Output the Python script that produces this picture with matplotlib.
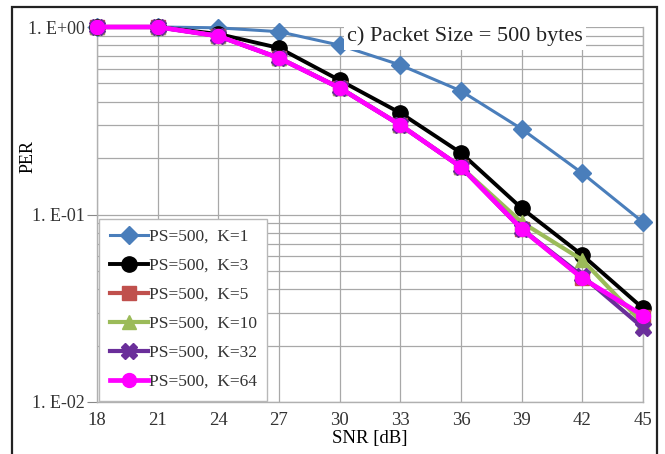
import matplotlib
matplotlib.use("Agg")
import matplotlib.pyplot as plt
from matplotlib.patches import Rectangle
from matplotlib.ticker import LogLocator, FixedLocator, NullFormatter

snr = [18, 21, 24, 27, 30, 33, 36, 39, 42, 45]
labels = ["PS=500,  K=1", "PS=500,  K=3", "PS=500,  K=5",
          "PS=500,  K=10", "PS=500,  K=32", "PS=500,  K=64"]
per_k1 = [1.0, 1.0, 0.99, 0.944, 0.80, 0.627, 0.456, 0.286, 0.166, 0.091]
per_k3 = [1.0, 1.0, 0.918, 0.773, 0.52, 0.348, 0.213, 0.108, 0.0607, 0.0316]
per_k5 = [1.0, 1.0, 0.895, 0.683, 0.473, 0.30, 0.179, 0.0837, 0.0457, 0.0285]
per_k10 = [1.0, 1.0, 0.895, 0.683, 0.473, 0.30, 0.179, 0.091, 0.0572, 0.0262]
per_k32 = [1.0, 1.0, 0.895, 0.683, 0.473, 0.30, 0.179, 0.0837, 0.047, 0.0249]
per_k64 = [1.0, 1.0, 0.895, 0.683, 0.473, 0.30, 0.179, 0.0837, 0.0457, 0.0289]
y_ticks = [1.0, 0.1, 0.01]
y_tick_labels = ["1. E+00", "1. E-01", "1. E-02"]
title = "c) Packet Size = 500 bytes"

serif = ["Liberation Serif", "DejaVu Serif"]

fig = plt.figure(figsize=(6.65, 4.54), dpi=100)
fig.patch.set_facecolor("white")
ax = fig.add_axes([97 / 665, 1 - 402 / 454, 546 / 665, 375 / 454])

styles = [
    (per_k1, "#4A7EBB", "D", 9, 2.2),
    (per_k3, "#000000", "o", 11, 2.8),
    (per_k5, "#C0504D", "s", 10, 3.0),
    (per_k10, "#9BBB59", "^", 10, 3.0),
    (per_k32, "#6A2E9A", "X", 12, 3.0),
    (per_k64, "#FF00FF", "o", 10, 3.4),
]
for (vals, col, mk, ms, lw), lab in zip(styles, labels):
    ax.plot(snr, vals, color=col, marker=mk, markersize=ms, linewidth=lw,
            markeredgecolor=col, label=lab, zorder=3, clip_on=False)

ax.set_yscale("log")
ax.set_ylim(0.01, 1.0)
ax.set_xlim(18, 45)
ax.set_xticks(snr)
ax.set_xticklabels([str(v) for v in snr], fontfamily=serif, fontsize=13.5,
                   color="#333333")
ax.yaxis.set_major_locator(FixedLocator(y_ticks))
ax.set_yticklabels(y_tick_labels, fontfamily=serif, fontsize=13,
                   color="#333333")
ax.yaxis.set_minor_locator(LogLocator(base=10, subs=range(2, 10)))
ax.yaxis.set_minor_formatter(NullFormatter())
ax.tick_params(axis="y", which="major", length=7, color="#888888", pad=2)
ax.tick_params(axis="y", which="minor", length=0)
ax.tick_params(axis="x", length=0, pad=7)

ax.grid(True, which="major", axis="both", color="#a8a8a8", linewidth=0.9)
ax.grid(True, which="minor", axis="y", color="#a8a8a8", linewidth=0.9)
ax.set_axisbelow(True)
for side in ["left", "bottom", "right"]:
    ax.spines[side].set_color("#b0b0b0")
    ax.spines[side].set_linewidth(1.0)
ax.spines["top"].set_visible(False)

ax.set_xlabel("SNR [dB]", fontfamily=serif, fontsize=13.5, labelpad=1)
ax.set_ylabel("PER", fontfamily=serif, fontsize=13)
ax.yaxis.set_label_coords(-0.11, 0.655)

leg = ax.legend(loc="lower left", bbox_to_anchor=(0.004, 0.004),
                prop={"family": serif, "size": 12.5}, frameon=True,
                fancybox=False, edgecolor="#b8b8b8", framealpha=1.0,
                handlelength=2.2, handletextpad=0.05, labelspacing=0.74,
                borderpad=0.6, borderaxespad=0.0)
leg.get_frame().set_linewidth(1.0)
for t in leg.get_texts():
    t.set_color("#333333")

ax.text(0.674, 0.975, title, transform=ax.transAxes, ha="center", va="center",
        fontfamily=serif, fontsize=16, color="#222222",
        bbox=dict(facecolor="white", edgecolor="none", pad=2.5), zorder=5)

fig.patches.append(Rectangle((12 / 665, -0.1), 645 / 665, 1.1 - 7 / 454,
                             transform=fig.transFigure, fill=False,
                             edgecolor="#222222", linewidth=1.6))

fig.savefig("out.png", dpi=100)
